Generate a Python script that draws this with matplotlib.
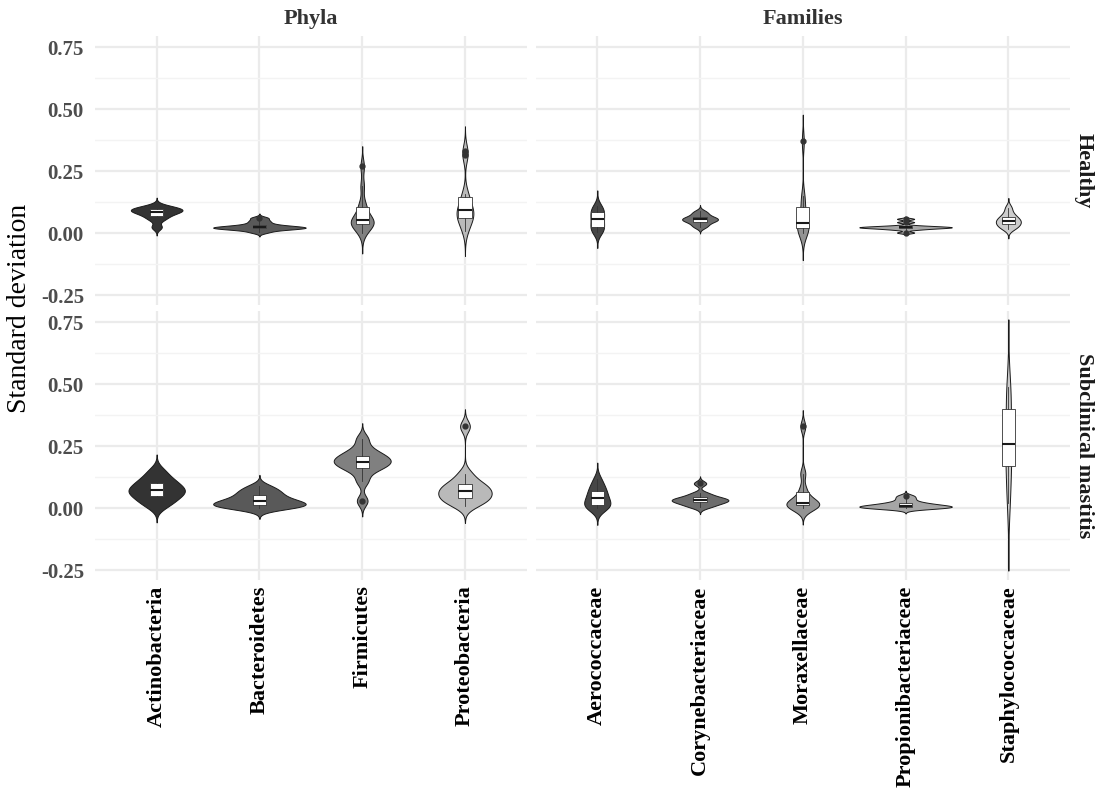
"""Violin plots of per-taxon standard deviations, healthy vs subclinical mastitis."""

import matplotlib
matplotlib.use("Agg")
import matplotlib.pyplot as plt
import numpy as np

# Categories for each facet column.
phyla = ["Actinobacteria", "Bacteroidetes", "Firmicutes", "Proteobacteria"]
families = ["Aerococcaceae", "Corynebacteriaceae", "Moraxellaceae",
            "Propionibacteriaceae", "Staphylococcaceae"]
health_groups = ["Healthy", "Subclinical mastitis"]
facet_titles = ["Phyla", "Families"]
y_ticks = [-0.25, 0.0, 0.25, 0.5, 0.75]

# Standard deviations per sample, healthy quarters.
healthy_actinobacteria = [0.025, 0.055, 0.068, 0.078, 0.085, 0.09, 0.094, 0.098, 0.102, 0.11]
healthy_bacteroidetes = [0.005, 0.015, 0.018, 0.02, 0.022, 0.024, 0.026, 0.028, 0.032, 0.04, 0.05, 0.062]
healthy_firmicutes = [0.0, 0.025, 0.035, 0.04, 0.045, 0.05, 0.055, 0.07, 0.10, 0.12, 0.19, 0.27]
healthy_proteobacteria = [0.01, 0.04, 0.055, 0.065, 0.08, 0.09, 0.095, 0.11, 0.14, 0.16, 0.315, 0.33]
healthy_aerococcaceae = [0.004, 0.012, 0.022, 0.035, 0.05, 0.062, 0.075, 0.088, 0.098, 0.11]
healthy_corynebacteriaceae = [0.025, 0.035, 0.045, 0.05, 0.055, 0.058, 0.062, 0.068, 0.078, 0.088]
healthy_moraxellaceae = [0.0, 0.01, 0.02, 0.03, 0.035, 0.045, 0.07, 0.12, 0.15, 0.37]
healthy_propionibacteriaceae = [0.003, 0.015, 0.019, 0.021, 0.023, 0.024, 0.025, 0.026, 0.028, 0.031, 0.045, 0.058]
healthy_staphylococcaceae = [0.018, 0.026, 0.034, 0.041, 0.047, 0.053, 0.06, 0.068, 0.082, 0.104]

# Standard deviations per sample, subclinical mastitis quarters.
mastitis_actinobacteria = [0.01, 0.03, 0.045, 0.06, 0.07, 0.075, 0.09, 0.105, 0.12, 0.15]
mastitis_bacteroidetes = [0.002, 0.004, 0.007, 0.011, 0.015, 0.02, 0.025, 0.03, 0.036, 0.045, 0.055, 0.065, 0.075, 0.09]
mastitis_firmicutes = [0.03, 0.11, 0.15, 0.165, 0.175, 0.185, 0.19, 0.2, 0.21, 0.22, 0.24, 0.28]
mastitis_proteobacteria = [0.01, 0.025, 0.035, 0.045, 0.055, 0.065, 0.075, 0.085, 0.095, 0.11, 0.14, 0.33]
mastitis_aerococcaceae = [0.0, 0.005, 0.01, 0.02, 0.035, 0.045, 0.06, 0.075, 0.09, 0.117]
mastitis_corynebacteriaceae = [0.005, 0.015, 0.022, 0.028, 0.032, 0.036, 0.04, 0.048, 0.06, 0.1]
mastitis_moraxellaceae = [0.0, 0.005, 0.01, 0.015, 0.018, 0.022, 0.03, 0.05, 0.08, 0.14, 0.33]
mastitis_propionibacteriaceae = [0.0, 0.001, 0.003, 0.005, 0.007, 0.009, 0.012, 0.015, 0.02, 0.026, 0.038, 0.05]
mastitis_staphylococcaceae = [0.02, 0.08, 0.16, 0.2, 0.24, 0.28, 0.34, 0.42, 0.46, 0.49]

# Grey fill per taxon (alphabetical grey ramp, like scale_fill_grey).
fill_colors = {
    "Actinobacteria": "#333333", "Aerococcaceae": "#464646",
    "Bacteroidetes": "#595959", "Corynebacteriaceae": "#6c6c6c",
    "Firmicutes": "#808080", "Moraxellaceae": "#939393",
    "Propionibacteriaceae": "#a6a6a6", "Proteobacteria": "#b9b9b9",
    "Staphylococcaceae": "#cccccc",
}

panels = [
    [[healthy_actinobacteria, healthy_bacteroidetes, healthy_firmicutes, healthy_proteobacteria],
     [healthy_aerococcaceae, healthy_corynebacteriaceae, healthy_moraxellaceae,
      healthy_propionibacteriaceae, healthy_staphylococcaceae]],
    [[mastitis_actinobacteria, mastitis_bacteroidetes, mastitis_firmicutes, mastitis_proteobacteria],
     [mastitis_aerococcaceae, mastitis_corynebacteriaceae, mastitis_moraxellaceae,
      mastitis_propionibacteriaceae, mastitis_staphylococcaceae]],
]
column_labels = [phyla, families]


def bw_nrd0(x):
    # Silverman's rule as in R's bw.nrd0
    q75, q25 = np.percentile(x, [75, 25])
    lo = min(np.std(x, ddof=1), (q75 - q25) / 1.34)
    return 0.9 * lo * len(x) ** -0.2


def kde(values):
    # untrimmed violin: extend 3 bandwidths past the data
    x = np.asarray(values, dtype=float)
    bw = bw_nrd0(x)
    grid = np.linspace(x.min() - 3 * bw, x.max() + 3 * bw, 512)
    z = (grid[:, None] - x[None, :]) / bw
    dens = np.exp(-0.5 * z ** 2).sum(axis=1) / (len(x) * bw * np.sqrt(2 * np.pi))
    return grid, dens


plt.rcParams["font.family"] = ["Liberation Serif", "DejaVu Serif"]

fig = plt.figure(figsize=(10.95, 7.96), dpi=100)
gs = fig.add_gridspec(2, 2, width_ratios=[4.2, 5.2], left=95 / 1095, right=1070 / 1095,
                      top=1 - 36 / 796, bottom=1 - 580 / 796, wspace=0.0186, hspace=0.022)

densities = [[[kde(v) for v in col] for col in row] for row in panels]

for r, row in enumerate(panels):
    for c, col in enumerate(row):
        ax = fig.add_subplot(gs[r, c])
        labels = column_labels[c]
        dens_max = max(d.max() for _, d in densities[r][c])
        for i, (grid, dens) in enumerate(densities[r][c]):
            half = 0.45 * dens / dens_max
            ax.fill_betweenx(grid, i - half, i + half, facecolor=fill_colors[labels[i]],
                             edgecolor="#1a1a1a", linewidth=0.7, zorder=2)
        ax.boxplot(col, positions=range(len(col)), widths=0.13, patch_artist=True,
                   showcaps=False, manage_ticks=False, zorder=3,
                   boxprops=dict(facecolor="white", edgecolor="#333333", linewidth=0.6),
                   medianprops=dict(color="#1a1a1a", linewidth=1.5),
                   whiskerprops=dict(color="#333333", linewidth=0.6),
                   flierprops=dict(marker="o", markersize=3.5, markerfacecolor="#333333",
                                   markeredgecolor="#333333"))

        ax.set_xlim(-0.6, len(col) - 0.4)
        ax.set_ylim(-0.289, 0.795)
        ax.set_xticks(range(len(col)))
        ax.set_yticks(y_ticks)
        ax.set_yticks([-0.125, 0.125, 0.375, 0.625], minor=True)
        ax.grid(which="major", color="#ebebeb", linewidth=1.6)
        ax.grid(which="minor", axis="y", color="#f3f3f3", linewidth=1.0)
        ax.set_axisbelow(True)
        for s in ax.spines.values():
            s.set_visible(False)
        ax.tick_params(which="both", length=0)
        ax.tick_params(axis="y", pad=8)
        ax.tick_params(axis="x", pad=4)

        if c == 0:
            ax.set_yticklabels([f"{t:.2f}" for t in y_ticks], fontsize=15,
                               fontweight="bold", color="#4d4d4d")
        else:
            ax.tick_params(axis="y", labelleft=False)
        if r == 1:
            ax.set_xticklabels(labels, rotation=90, fontsize=16, fontweight="bold",
                               color="black", va="top")
        else:
            ax.tick_params(axis="x", labelbottom=False)

        if r == 0:
            ax.annotate(facet_titles[c], xy=(0.5, 1), xycoords="axes fraction",
                        xytext=(0, 12), textcoords="offset points", ha="center",
                        va="center", fontsize=16, fontweight="bold", color="#333333")
        if c == 1:
            ax.annotate(health_groups[r], xy=(1, 0.5), xycoords="axes fraction",
                        xytext=(10, 0), textcoords="offset points", ha="center",
                        va="center", rotation=-90, fontsize=16, fontweight="bold",
                        color="#1a1a1a")

fig.text(20 / 1095, 1 - 308 / 796, "Standard deviation", rotation=90, ha="center",
         va="center", fontsize=20)

fig.savefig("out.png", dpi=100)
plt.close(fig)
